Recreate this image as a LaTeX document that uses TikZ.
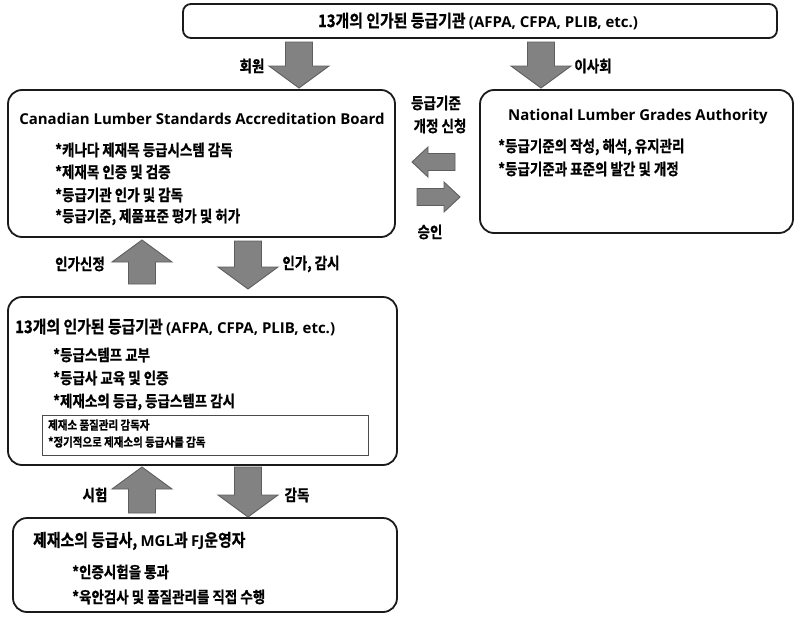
\documentclass[tikz,border=0pt]{standalone}
\usepackage{fontspec}
\setmainfont{Noto Sans CJK KR}[BoldFont={* Bold}, BoldFeatures={FakeBold=0.8}, FakeStretch=0.86]
\newfontfamily\en{Open Sans}[BoldFont={* Bold}]
\newcommand\E[1]{{\en\fontsize{15}{17}\selectfont #1}}
\definecolor{arrfill}{HTML}{828282}
\definecolor{arredge}{HTML}{5E5E5E}
\definecolor{boxline}{HTML}{1A1A1A}
\newcommand\varrow[3]{%
  \pgfmathsetmacro\hb{#3 + ((#2 < #3) ? -22 : 22)}%
  \draw[blk] (#1-13.5,#2) -- (#1+13.5,#2) -- (#1+13.5,\hb) -- (#1+30,\hb)
     -- (#1,#3) -- (#1-30,\hb) -- (#1-13.5,\hb) -- cycle;}
\newcommand\harrow[3]{%
  \pgfmathsetmacro\hb{#3 + ((#2 < #3) ? -16 : 16)}%
  \draw[blk] (#2,#1-8.5) -- (#2,#1+8.5) -- (\hb,#1+8.5) -- (\hb,#1+15)
     -- (#3,#1) -- (\hb,#1-15) -- (\hb,#1-8.5) -- cycle;}
\begin{document}
\begin{tikzpicture}[x=1pt,y=-1pt,
  bigbox/.style={draw=boxline, line width=1.8pt, rounded corners=14pt, inner sep=0pt},
  smallbox/.style={draw=black!70, line width=0.8pt, inner sep=0pt},
  blk/.style={fill=arrfill, draw=arredge, line width=0.9pt, line join=miter},
  ttl/.style={font=\fontsize{17.3}{19}\selectfont\bfseries, inner sep=0pt},
  itm/.style={font=\fontsize{15.7}{18}\selectfont\bfseries, inner sep=0pt, anchor=west},
  lbl/.style={font=\fontsize{15.7}{18}\selectfont\bfseries, inner sep=0pt},
  sml/.style={font=\fontsize{12.2}{14}\selectfont\bfseries, inner sep=0pt, anchor=west}]
\useasboundingbox (0,0) rectangle (795,616);
\fill[white] (0,0) rectangle (795,616);

% boxes
\node[bigbox, rounded corners=8pt, minimum width=594pt, minimum height=34pt] (top) at (480,21) {};
\node[bigbox, minimum width=387pt, minimum height=147pt] (clsab) at (201.5,163.5) {};
\node[bigbox, minimum width=313pt, minimum height=143pt] (nlga) at (636.5,161.5) {};
\node[bigbox, minimum width=389pt, minimum height=168pt] (agency) at (202.5,381) {};
\node[smallbox, minimum width=326pt, minimum height=40pt] (qc) at (205,435) {};
\node[bigbox, minimum width=384pt, minimum height=94pt] (mill) at (205,565) {};

% top box text
\node[ttl] (toptxt) at (478,21) {13개의 인가된 등급기관 \E{(AFPA, CFPA, PLIB, etc.)}};

% CLSAB
\node[ttl] (clsabttl) at (202,119) {\E{Canadian Lumber Standards Accreditation Board}};
\node[itm] (c1) at (55,150) {*캐나다 제재목 등급시스템 감독};
\node[itm] (c2) at (55,172) {*제재목 인증 및 검증};
\node[itm] (c3) at (55,195) {*등급기관 인가 및 감독};
\node[itm] (c4) at (55,217) {*등급기준, 제품표준 평가 및 허가};

% NLGA
\node[ttl] (nlgattl) at (638,117) {\E{National Lumber Grades Authority}};
\node[itm] (n1) at (498,147) {*등급기준의 작성, 해석, 유지관리};
\node[itm] (n2) at (498,169) {*등급기준과 표준의 발간 및 개정};

% agencies
\node[ttl, anchor=west] (agttl) at (15,327) {13개의 인가된 등급기관 \E{(AFPA, CFPA, PLIB, etc.)}};
\node[itm] (a1) at (53,355) {*등급스템프 교부};
\node[itm] (a2) at (53,378) {*등급사 교육 및 인증};
\node[itm] (a3) at (53,402) {*제재소의 등급, 등급스템프 감시};
\node[sml] (q1) at (48,425) {제재소 품질관리 감독자};
\node[sml] (q2) at (48,442) {*정기적으로 제재소의 등급사를 감독};

% mill
\node[ttl, anchor=west] (millttl) at (33,541) {제재소의 등급사, \E{MGL}과 \E{FJ}운영자};
\node[itm] (m1) at (72,572) {*인증시험을 통과};
\node[itm] (m2) at (72,597) {*육안검사 및 품질관리를 직접 수행};

% block arrows
\varrow{299}{42}{88}
\varrow{541}{42}{88}
\harrow{162}{455}{412}
\harrow{197}{417}{460}
\varrow{142}{284}{240}
\varrow{248}{241}{289}
\varrow{142}{513}{467}
\varrow{248}{467}{517}

% arrow labels
\node[lbl] (l1) at (252,66) {회원};
\node[lbl] (l2) at (593,66) {이사회};
\node[lbl] (l3) at (436,103) {등급기준};
\node[lbl] (l4) at (440,126) {개정 신청};
\node[lbl] (l5) at (430,232) {승인};
\node[lbl] (l6) at (80,264) {인가신정};
\node[lbl] (l7) at (311,264) {인가, 감시};
\node[lbl] (l8) at (95,495) {시험};
\node[lbl] (l9) at (297,495) {감독};
\end{tikzpicture}
\end{document}
